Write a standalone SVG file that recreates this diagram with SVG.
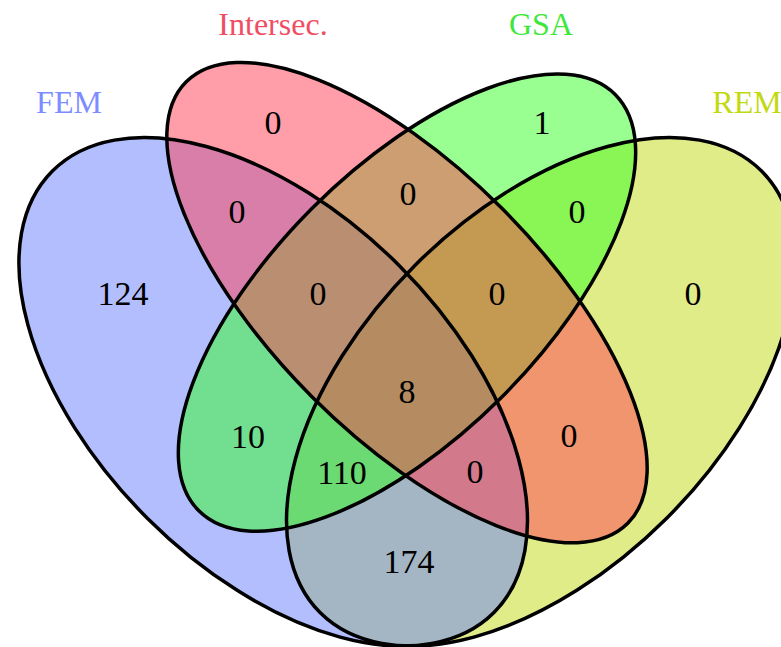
<svg xmlns="http://www.w3.org/2000/svg" xmlns:xlink="http://www.w3.org/1999/xlink" width="781" height="647" viewBox="0 0 781 647">
  <style>
    .set { fill-opacity: 0.5; stroke: none; }
    .outline { fill: none; stroke: #000; stroke-width: 3.5; }
    .count { font-family: "Liberation Serif", "Times New Roman", serif; font-size: 34px; fill: #000; text-anchor: middle; }
    .title { font-family: "Liberation Serif", "Times New Roman", serif; font-size: 32px; text-anchor: middle; }
  </style>
  <defs>
    <ellipse id="shape-fem" cx="273.2" cy="391.8" rx="312.2" ry="178.4" transform="rotate(45 273.2 391.8)"/>
    <ellipse id="shape-rem" cx="540.8" cy="391.8" rx="312.2" ry="178.4" transform="rotate(-45 540.8 391.8)"/>
    <ellipse id="shape-int" cx="407" cy="302.6" rx="312.2" ry="133.8" transform="rotate(45 407 302.6)"/>
    <ellipse id="shape-gsa" cx="407" cy="302.6" rx="294.4" ry="133.8" transform="rotate(-45 407 302.6)"/>
  </defs>

  <rect width="781" height="647" fill="#fff"/>

  <!-- set fills, painted in stacking order -->
  <g id="REM">
    <use xlink:href="#shape-rem" class="set" fill="#C1D911"/>
    <text class="title" x="747" y="113" fill="#C1D911">REM</text>
  </g>
  <g id="FEM">
    <use xlink:href="#shape-fem" class="set" fill="#677DFF"/>
    <text class="title" x="69" y="113" fill="#7D8CFF">FEM</text>
  </g>
  <g id="GSA">
    <use xlink:href="#shape-gsa" class="set" fill="#31FF21"/>
    <text class="title" x="541" y="35" fill="#3EE83A">GSA</text>
  </g>
  <g id="Intersec">
    <use xlink:href="#shape-int" class="set" fill="#FF3D51"/>
    <text class="title" x="273" y="35" fill="#F04D63">Intersec.</text>
  </g>

  <!-- set boundaries on top of all fills -->
  <g id="outlines">
    <use xlink:href="#shape-rem" class="outline"/>
    <use xlink:href="#shape-fem" class="outline"/>
    <use xlink:href="#shape-gsa" class="outline"/>
    <use xlink:href="#shape-int" class="outline"/>
  </g>

  <!-- region counts -->
  <g id="counts">
    <text class="count" x="123" y="305">124</text>
    <text class="count" x="273" y="134">0</text>
    <text class="count" x="542" y="134">1</text>
    <text class="count" x="693" y="305">0</text>
    <text class="count" x="237" y="223">0</text>
    <text class="count" x="408" y="205">0</text>
    <text class="count" x="577" y="223">0</text>
    <text class="count" x="318" y="305">0</text>
    <text class="count" x="497" y="305">0</text>
    <text class="count" x="407" y="403">8</text>
    <text class="count" x="248" y="448">10</text>
    <text class="count" x="569" y="447">0</text>
    <text class="count" x="342" y="484">110</text>
    <text class="count" x="475" y="483">0</text>
    <text class="count" x="409" y="573">174</text>
  </g>
</svg>
